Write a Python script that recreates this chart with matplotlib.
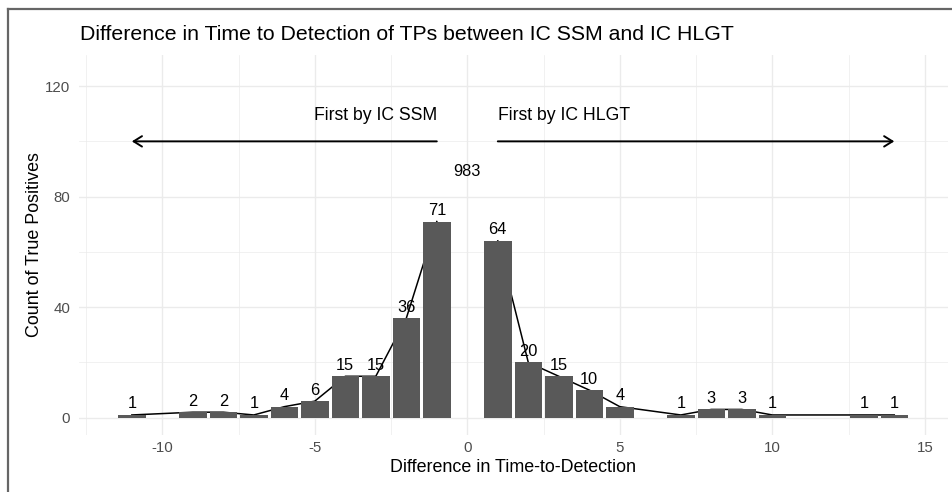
import matplotlib
matplotlib.use("Agg")
import matplotlib.pyplot as plt
from matplotlib.lines import Line2D

plt.rcParams["font.family"] = ["Liberation Sans", "DejaVu Sans"]
plt.rcParams["axes.unicode_minus"] = False

# Difference in time-to-detection (days) and count of true positives
diffs = [-11, -9, -8, -7, -6, -5, -4, -3, -2, -1,
         1, 2, 3, 4, 5, 7, 8, 9, 10, 13, 14]
counts = [1, 2, 2, 1, 4, 6, 15, 15, 36, 71,
          64, 20, 15, 10, 4, 1, 3, 3, 1, 1, 1]
zero_diff_count = 983
zero_label_y = 85

BAR_COLOR = "#595959"
GRID = "#EBEBEB"
TICK_COLOR = "#4D4D4D"

fig = plt.figure(figsize=(9.52, 4.92), dpi=100)
ax = fig.add_axes([78.6 / 952, 1 - 435 / 492, (947.5 - 78.6) / 952, (435 - 55) / 492])

# bars, with the connecting line drawn behind them
ax.bar(diffs, counts, width=0.9, color=BAR_COLOR, zorder=3)
neg = [(d, c) for d, c in zip(diffs, counts) if d < 0]
pos = [(d, c) for d, c in zip(diffs, counts) if d > 0]
for seg in (neg, pos):
    ax.plot([p[0] for p in seg], [p[1] for p in seg], color="black", lw=1.1, zorder=2)

for d, c in zip(diffs, counts):
    ax.annotate(str(c), (d, c), xytext=(0, 2.5), textcoords="offset points",
                ha="center", va="bottom", fontsize=11.8, zorder=4)
ax.annotate(str(zero_diff_count), (0, zero_label_y), xytext=(0, 2.5),
            textcoords="offset points", ha="center", va="bottom", fontsize=11.8)

# direction arrows
arrow_kw = dict(arrowstyle="->,head_length=0.4,head_width=0.25", color="black",
                lw=1.4, shrinkA=0, shrinkB=0, mutation_scale=15)
ax.annotate("", xy=(-11, 100), xytext=(-1, 100), arrowprops=arrow_kw)
ax.annotate("", xy=(14, 100), xytext=(1, 100), arrowprops=arrow_kw)
ax.text(-1, 109.5, "First by IC SSM", ha="right", va="center", fontsize=12.7)
ax.text(1, 109.5, "First by IC HLGT", ha="left", va="center", fontsize=12.7)

ax.set_xlim(-12.745, 15.745)
ax.set_ylim(-6.25, 131.25)
ax.set_xticks([-10, -5, 0, 5, 10, 15])
ax.set_xticks([-12.5, -7.5, -2.5, 2.5, 7.5, 12.5], minor=True)
ax.set_yticks([0, 40, 80, 120])
ax.set_yticks([20, 60, 100], minor=True)
ax.grid(True, which="major", color=GRID, lw=1.0, zorder=0)
ax.grid(True, which="minor", color=GRID, lw=0.5, zorder=0)
ax.set_axisbelow(True)
for s in ax.spines.values():
    s.set_visible(False)
ax.tick_params(which="both", length=0, labelsize=10.8, labelcolor=TICK_COLOR)
ax.tick_params(axis="y", pad=6)
ax.tick_params(axis="x", pad=4)

ax.set_xlabel("Difference in Time-to-Detection", fontsize=12.9, labelpad=3)
ax.set_ylabel("Count of True Positives", fontsize=12.9, labelpad=1.5)
fig.text(80 / 952, 1 - 34 / 492, "Difference in Time to Detection of TPs between IC SSM and IC HLGT",
         ha="left", va="center", fontsize=15.3)

# frame of the original screenshot
fig.add_artist(Line2D([8 / 952, 1], [1 - 9 / 492] * 2, color="#666666", lw=1.6))
fig.add_artist(Line2D([8 / 952] * 2, [0, 1 - 9 / 492], color="#666666", lw=1.6))

fig.savefig("out.png", dpi=100)
